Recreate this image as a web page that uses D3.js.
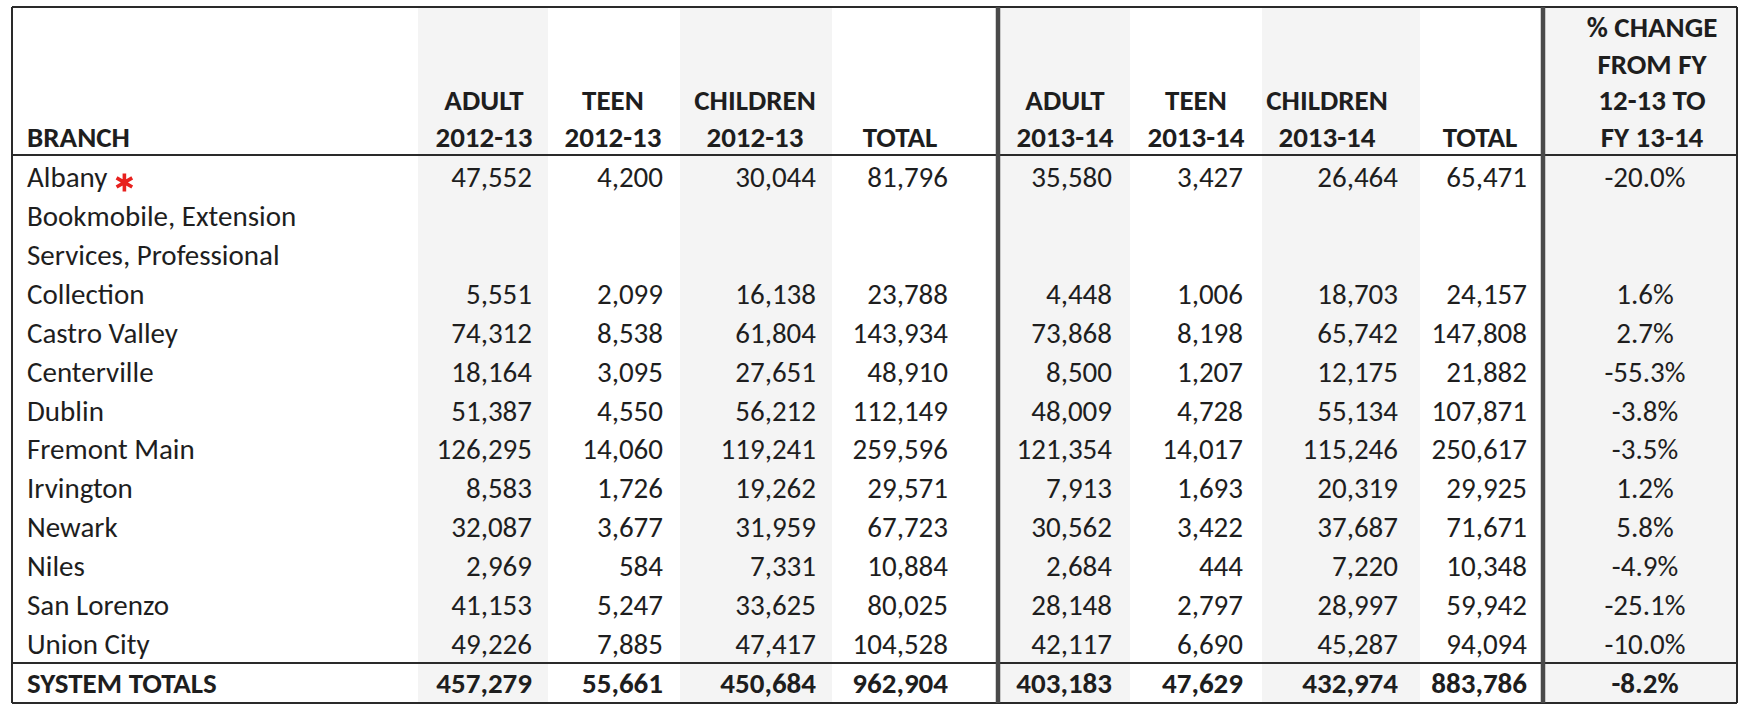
<!DOCTYPE html>
<html><head><meta charset="utf-8">
<script src="https://cdn.jsdelivr.net/npm/d3@7"></script>
<style>
html,body{margin:0;padding:0;background:#fff;}
svg{display:block;}
text{font-family:Carlito,Calibri,Lato,"Open Sans",sans-serif;fill:#1e1e1e;}
</style></head><body>
<svg id="c" width="1739" height="704"></svg>
<script>
// ---- data ----
const branchLabels = [
  ["Albany"],
  ["Bookmobile, Extension", "Services, Professional", "Collection"],
  ["Castro Valley"], ["Centerville"], ["Dublin"], ["Fremont Main"], ["Irvington"],
  ["Newark"], ["Niles"], ["San Lorenzo"], ["Union City"]
];
const adult1213    = [47552, 5551, 74312, 18164, 51387, 126295, 8583, 32087, 2969, 41153, 49226];
const teen1213     = [4200, 2099, 8538, 3095, 4550, 14060, 1726, 3677, 584, 5247, 7885];
const children1213 = [30044, 16138, 61804, 27651, 56212, 119241, 19262, 31959, 7331, 33625, 47417];
const total1213    = [81796, 23788, 143934, 48910, 112149, 259596, 29571, 67723, 10884, 80025, 104528];
const adult1314    = [35580, 4448, 73868, 8500, 48009, 121354, 7913, 30562, 2684, 28148, 42117];
const teen1314     = [3427, 1006, 8198, 1207, 4728, 14017, 1693, 3422, 444, 2797, 6690];
const children1314 = [26464, 18703, 65742, 12175, 55134, 115246, 20319, 37687, 7220, 28997, 45287];
const total1314    = [65471, 24157, 147808, 21882, 107871, 250617, 29925, 71671, 10348, 59942, 94094];
const pctChange    = [-20.0, 1.6, 2.7, -55.3, -3.8, -3.5, 1.2, 5.8, -4.9, -25.1, -10.0];
const totalsLabel  = "SYSTEM TOTALS";
const systemTotals = [457279, 55661, 450684, 962904, 403183, 47629, 432974, 883786];
const systemPct    = -8.2;
const columnHeaders = [
  ["ADULT", "2012-13"], ["TEEN", "2012-13"], ["CHILDREN", "2012-13"], ["TOTAL"],
  ["ADULT", "2013-14"], ["TEEN", "2013-14"], ["CHILDREN", "2013-14"], ["TOTAL"],
  ["% CHANGE", "FROM FY", "12-13 TO", "FY 13-14"]
];
const branchHeader = "BRANCH";
const markedBranch = "Albany";

(function () {
const svg = d3.select("#c");
const FS = 29;
const loc = d3.formatLocale({decimal: ".", thousands: ",", grouping: [3], currency: ["", ""], minus: "-"});
const fmt = loc.format(",");
const pfmt = v => loc.format(".1f")(v) + "%";

const yTop = 7, headBottom = 155, totalsTop = 663, yBottom = 703;
const xLeft = 12, xRight = 1737;
const bounds = [[418,548],[548,680],[680,832],[832,996],[1000,1130],[1130,1262],[1262,1420],[1420,1541],[1545,xRight]];
const dataRight = [532, 663, 816, 948, 1112, 1243, 1398, 1527];
const headCenter = [484, 613, 755, 900, 1065, 1196, 1327, 1480, 1652];
const shaded = [0, 2, 4, 6, 8];

const nLines = 13;
const y = d3.scaleBand().domain(d3.range(nLines)).range([headBottom + 3, totalsTop]);
const baseOff = 10;

svg.selectAll("rect.shade").data(shaded).join("rect")
  .attr("x", i => bounds[i][0]).attr("width", i => bounds[i][1] - bounds[i][0])
  .attr("y", yTop).attr("height", yBottom - yTop)
  .attr("fill", "#f4f4f4");

const hl = d3.scaleLinear().domain([0, 3]).range([37, 147]);
svg.append("text").attr("x", 27).attr("y", hl(3)).attr("font-size", FS).attr("font-weight", "bold").text(branchHeader);
columnHeaders.forEach((lines, ci) => {
  lines.forEach((t, li) => {
    svg.append("text").attr("x", headCenter[ci]).attr("y", hl(3 - (lines.length - 1 - li)))
      .attr("text-anchor", "middle").attr("font-size", FS).attr("font-weight", "bold").text(t);
  });
});

const seriesCols = [adult1213, teen1213, children1213, total1213, adult1314, teen1314, children1314, total1314];
let line = 0;
branchLabels.forEach((lines, ri) => {
  lines.forEach((t, li) => {
    const tx = svg.append("text").attr("x", 27).attr("y", y(line + li) + y.bandwidth() / 2 + baseOff)
      .attr("font-size", FS).text(t);
    if (t === markedBranch) {
      const w = tx.node().getComputedTextLength();
      svg.append("path")
        .attr("d", d3.symbol(d3.symbolAsterisk, 230)())
        .attr("transform", `translate(${27 + w + 17},${y(line + li) + y.bandwidth() / 2 + 5})`)
        .attr("stroke", "#e8211e").attr("stroke-width", 3.6).attr("fill", "none");
    }
  });
  const dl = line + lines.length - 1;
  const by = y(dl) + y.bandwidth() / 2 + baseOff;
  seriesCols.forEach((arr, ci) => {
    svg.append("text").attr("x", dataRight[ci]).attr("y", by).attr("text-anchor", "end")
      .attr("font-size", FS).text(fmt(arr[ri]));
  });
  svg.append("text").attr("x", headCenter[8] - 7).attr("y", by).attr("text-anchor", "middle")
    .attr("font-size", FS).text(pfmt(pctChange[ri]));
  line += lines.length;
});

const ty = (totalsTop + yBottom) / 2 + baseOff;
svg.append("text").attr("x", 27).attr("y", ty).attr("font-size", FS).attr("font-weight", "bold").text(totalsLabel);
systemTotals.forEach((v, ci) => {
  svg.append("text").attr("x", dataRight[ci]).attr("y", ty).attr("text-anchor", "end")
    .attr("font-size", FS).attr("font-weight", "bold").text(fmt(v));
});
svg.append("text").attr("x", headCenter[8] - 7).attr("y", ty).attr("text-anchor", "middle")
  .attr("font-size", FS).attr("font-weight", "bold").text(pfmt(systemPct));

const ink = "#2a2a2a";
const hline = (yy, w) => svg.append("line").attr("x1", xLeft).attr("x2", xRight).attr("y1", yy).attr("y2", yy).attr("stroke", ink).attr("stroke-width", w);
hline(yTop, 2); hline(headBottom, 2); hline(totalsTop, 2); hline(yBottom, 2);
const vline = (xx, w, c) => svg.append("line").attr("x1", xx).attr("x2", xx).attr("y1", yTop).attr("y2", yBottom).attr("stroke", c).attr("stroke-width", w);
vline(xLeft, 2, ink); vline(xRight, 2, ink);
vline(998, 4.5, "#4a4a4a"); vline(1543, 4.5, "#4a4a4a");
})();
</script>
</body></html>
